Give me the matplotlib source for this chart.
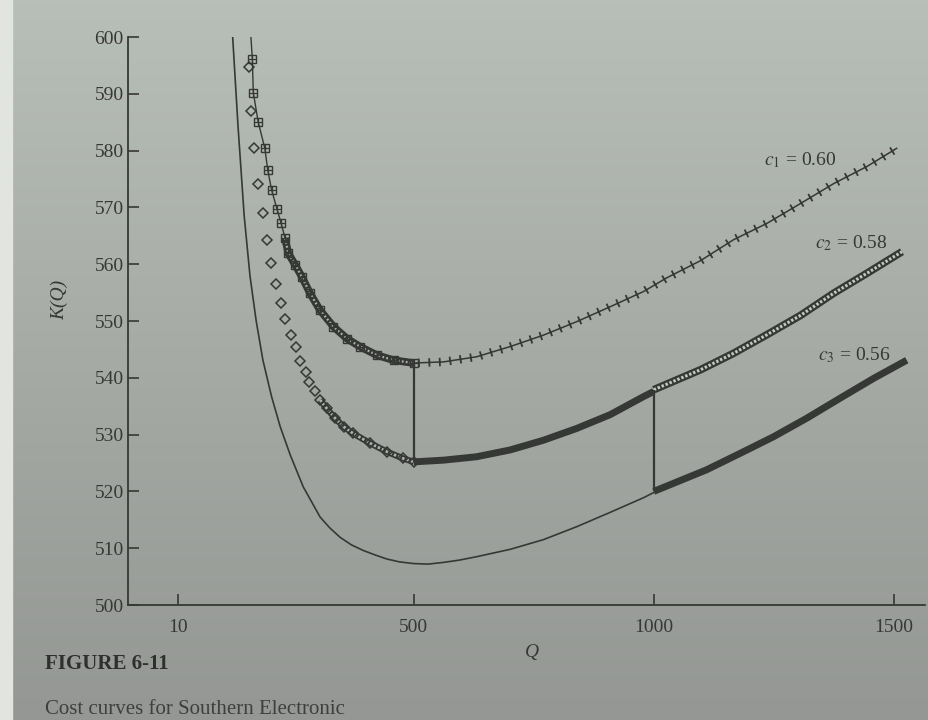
import numpy as np
import matplotlib
matplotlib.use('Agg')
import matplotlib.pyplot as plt
import matplotlib.patheffects as pe
from matplotlib.patches import Rectangle

# values (Q, K(Q))
thin_q = [123, 134, 147, 159, 172, 186, 204, 222, 243, 270, 305, 325, 347, 370, 395,
          420, 444, 470, 499, 530, 562, 595, 631, 701, 770, 840, 909, 979, 1000]
thin_k = [600, 584.5, 568.5, 558.0, 550.0, 543.1, 536.7, 531.4, 526.4, 520.8, 515.5,
          513.6, 511.9, 510.6, 509.6, 508.8, 508.1, 507.6, 507.3, 507.2, 507.5, 507.9,
          508.5, 509.8, 511.5, 513.8, 516.3, 518.9, 519.8]

c1_left_q = [161, 164, 166, 176, 190, 196, 204, 215, 224, 232, 239, 253, 267, 284, 305,
             333, 361, 388, 423, 458, 500]
c1_left_k = [600, 596.1, 590.2, 585.1, 580.4, 576.6, 573.1, 569.8, 567.2, 564.6, 561.9,
             559.9, 557.8, 554.9, 551.9, 549.0, 546.9, 545.5, 544.0, 543.1, 542.6]

c1_right_q = [500, 562, 631, 701, 770, 840, 909, 979, 1027, 1097, 1166, 1236, 1306,
              1375, 1444, 1506]
c1_right_k = [542.6, 542.8, 543.7, 545.5, 547.5, 549.9, 552.5, 555.2, 557.6, 560.6,
              564.3, 567.2, 570.7, 574.2, 577.2, 580.4]

c2_left_q = [156, 161, 168, 176, 186, 194, 202, 213, 223, 233, 244, 255, 263, 275, 283,
             295, 305, 319, 336, 354, 374, 409, 444, 478, 500]
c2_left_k = [594.8, 587.0, 580.4, 574.1, 569.1, 564.3, 560.2, 556.5, 553.2, 550.3, 547.5,
             545.4, 542.9, 541.1, 539.3, 537.6, 536.1, 534.6, 532.9, 531.4, 530.2, 528.5,
             527.0, 525.8, 525.2]

c2_mid_q = [500, 562, 631, 701, 770, 840, 909, 979, 1000]
c2_mid_k = [525.2, 525.5, 526.1, 527.3, 529.0, 531.1, 533.5, 536.7, 537.6]

c2_right_q = [1000, 1097, 1166, 1236, 1306, 1375, 1444, 1517]
c2_right_k = [537.9, 541.4, 544.3, 547.6, 551.0, 554.9, 558.4, 562.2]

c3_right_q = [1000, 1110, 1180, 1249, 1319, 1388, 1458, 1527]
c3_right_k = [520.0, 523.8, 526.7, 529.6, 532.9, 536.4, 539.9, 543.1]

breaks = [500, 1000]
break_lo = [525.2, 520.0]
break_hi = [542.6, 537.9]

labels = ['$c_1$ = 0.60', '$c_2$ = 0.58', '$c_3$ = 0.56']
label_q = [1305, 1411, 1417]
label_k = [578.3, 563.7, 544.0]

plt.rcParams['font.family'] = ['Liberation Serif', 'DejaVu Serif']
plt.rcParams['mathtext.fontset'] = 'stix'

ink = '#363836'
paper = '#aeb2ad'

fig = plt.figure(figsize=(9.29, 7.2), dpi=100)

# photo-like paper background
bg = fig.add_axes([0, 0, 1, 1], zorder=-10)
t = np.linspace(0, 1, 200)[:, None]
top = np.array([184, 190, 184]) / 255
bot = np.array([148, 151, 147]) / 255
img = top[None, None, :] * (1 - t[..., None]) + bot[None, None, :] * t[..., None]
img = np.repeat(img, 2, axis=1)
bg.imshow(img, aspect='auto', extent=[0, 1, 0, 1])
bg.axis('off')
fig.patches.append(Rectangle((0, 0), 12 / 929, 1, transform=fig.transFigure,
                             color='#e2e4e0', zorder=-5))

ax = fig.add_axes([128 / 929, 1 - 605 / 720, (925 - 128) / 929, (605 - 37) / 720])
ax.patch.set_visible(False)
ax.set_xlim(-95, 1565)
ax.set_ylim(500, 600)
for s in ['top', 'right']:
    ax.spines[s].set_visible(False)
for s in ['left', 'bottom']:
    ax.spines[s].set_color(ink)
    ax.spines[s].set_linewidth(1.3)
ax.set_xticks([10, 500, 1000, 1500])
ax.set_yticks(range(500, 601, 10))
ax.tick_params(direction='in', length=8, width=1.2, colors=ink, labelsize=14)
ax.tick_params(axis='x', pad=10)
ax.tick_params(axis='y', pad=3)

# c3 cost curve over the whole range
ax.plot(thin_q, thin_k, color=ink, lw=1.2)

# c1 curve, left part (squares) and right part (+)
ax.plot(c1_left_q, c1_left_k, color=ink, lw=1)
dense1 = [i for i, q in enumerate(c1_left_q) if q >= 230]
q1d = [c1_left_q[i] for i in dense1]
k1d = [c1_left_k[i] for i in dense1]
ax.plot(q1d, k1d, color=ink, lw=5.5, solid_capstyle='butt')
ax.plot(q1d, k1d, color=paper, lw=1.6, dashes=(0.8, 1.0))
ax.plot(c1_left_q[1:], c1_left_k[1:], ls='none', marker='s', ms=5.5,
        mfc='none', mec=ink, mew=1)
ax.plot(c1_left_q[1:], c1_left_k[1:], ls='none', marker='+', ms=5.5, mec=ink, mew=0.9)

ax.plot(c1_right_q, c1_right_k, color=ink, lw=1.1,
        path_effects=[pe.Stroke(),
                      pe.TickedStroke(spacing=7.5, angle=90, length=0.32, linewidth=1.3),
                      pe.TickedStroke(spacing=7.5, angle=-90, length=0.32, linewidth=1.3)])

# c2 curve
dense2 = [i for i, q in enumerate(c2_left_q) if q >= 300]
q2d = [c2_left_q[i] for i in dense2]
k2d = [c2_left_k[i] for i in dense2]
ax.plot(q2d, k2d, color=ink, lw=4.5, solid_capstyle='butt')
ax.plot(q2d, k2d, color=paper, lw=2, dashes=(0.9, 0.7))
ax.plot(c2_left_q, c2_left_k, ls='none', marker='D', ms=5, mfc='none', mec=ink, mew=1.1)

ax.plot(c2_mid_q, c2_mid_k, color=ink, lw=5, solid_capstyle='butt')

ax.plot(c2_right_q, c2_right_k, color=ink, lw=5.5, solid_capstyle='butt')
ax.plot(c2_right_q, c2_right_k, color='#c4c8c2', lw=2.2, dashes=(0.8, 0.6))

# c3 curve, valid part
ax.plot(c3_right_q, c3_right_k, color=ink, lw=5, solid_capstyle='butt')

# jumps at the price breaks
ax.vlines(breaks, break_lo, break_hi, color=ink, lw=1.6)

for txt, q, k in zip(labels, label_q, label_k):
    ax.text(q, k, txt, fontsize=14, color=ink, ha='center', va='center')

fig.text(60 / 929, 1 - 300 / 720, 'K(Q)', rotation=90, style='italic', fontsize=14,
         color=ink, ha='center', va='center')
fig.text(532 / 929, 1 - 652 / 720, 'Q', style='italic', fontsize=14, color=ink,
         ha='center', va='center')
fig.text(45 / 929, 1 - 664 / 720, 'FIGURE 6-11', weight='bold', fontsize=15,
         color='#2e302e', ha='left', va='center')
fig.text(45 / 929, 1 - 709 / 720, 'Cost curves for Southern Electronic', fontsize=15,
         color='#3e403e', ha='left', va='center')

fig.savefig('out.png', dpi=100)
